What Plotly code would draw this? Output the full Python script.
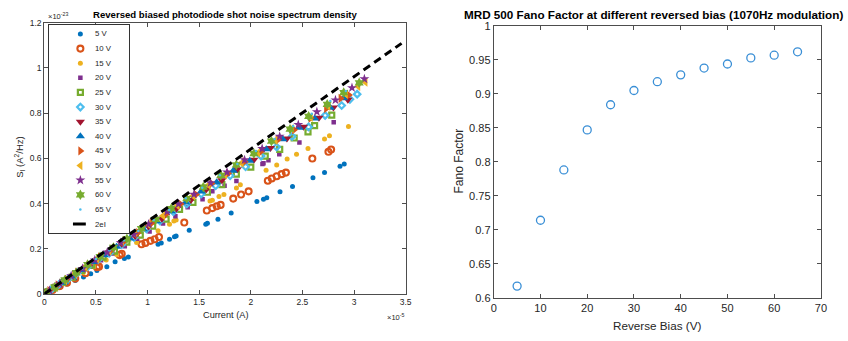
import plotly.graph_objects as go

# ---------------- shot-noise data (current in 1e-5 A, S_I in 1e-23 A^2/Hz) ----------------
bias_labels = ["5 V", "10 V", "15 V", "20 V", "25 V", "30 V", "35 V",
               "40 V", "45 V", "50 V", "55 V", "60 V", "65 V"]

cur_5v = [0.03, 0.08, 0.15, 0.22, 0.30, 0.38, 0.45, 0.51, 0.606, 0.686, 0.776, 0.814, 1.102, 1.133,
          1.213, 1.261, 1.277, 1.404, 1.564, 1.580, 1.682, 1.810, 2.059, 2.123, 2.155, 2.283, 2.404,
          2.602, 2.714, 2.864, 2.905]
sn_5v = [0.006, 0.016, 0.030, 0.044, 0.060, 0.075, 0.089, 0.104, 0.121, 0.143, 0.157, 0.164, 0.220,
         0.225, 0.242, 0.253, 0.256, 0.282, 0.309, 0.313, 0.331, 0.358, 0.409, 0.419, 0.426, 0.452,
         0.476, 0.514, 0.537, 0.565, 0.575]

cur_10v = [0.03, 0.08, 0.15, 0.22, 0.30, 0.40, 0.51, 0.53, 0.73, 0.75, 0.942, 0.980, 1.028, 1.069,
           1.111, 1.356, 1.574, 1.628, 1.670, 1.708, 1.830, 1.906, 1.979, 2.165, 2.203, 2.251, 2.299,
           2.340, 2.596, 2.752, 2.778]
sn_10v = [0.007, 0.018, 0.035, 0.050, 0.068, 0.092, 0.118, 0.121, 0.172, 0.178, 0.220, 0.226, 0.235,
          0.242, 0.252, 0.316, 0.369, 0.380, 0.388, 0.394, 0.422, 0.440, 0.454, 0.501, 0.511, 0.521,
          0.530, 0.537, 0.599, 0.629, 0.639]

cur_15v = [0.04, 0.10, 0.18, 0.28, 0.38, 0.48, 0.60, 0.70, 0.894, 1.102, 1.213, 1.255, 1.277, 1.605,
           1.628, 1.692, 1.740, 1.861, 1.899, 2.148, 2.251, 2.352, 2.443, 2.554, 2.714, 2.762, 2.946]
sn_15v = [0.010, 0.025, 0.045, 0.070, 0.095, 0.120, 0.150, 0.175, 0.228, 0.280, 0.309, 0.323, 0.327,
          0.411, 0.415, 0.431, 0.440, 0.469, 0.483, 0.547, 0.571, 0.597, 0.618, 0.643, 0.686, 0.700,
          0.741]

cur_20v = [0.05, 0.12, 0.20, 0.28, 0.36, 0.45, 0.55, 0.66, 0.78, 0.90, 1.02, 1.15, 1.27, 1.389, 1.533,
           1.628, 1.746, 1.861, 2.113, 2.123, 2.171, 2.276, 2.471, 2.803]
sn_20v = [0.014, 0.032, 0.054, 0.076, 0.098, 0.122, 0.149, 0.179, 0.211, 0.244, 0.276, 0.312, 0.344,
          0.384, 0.419, 0.454, 0.479, 0.500, 0.575, 0.578, 0.592, 0.618, 0.670, 0.760]

cur_25v = [0.03, 0.10, 0.18, 0.27, 0.36, 0.46, 0.57, 0.68, 0.80, 0.93, 1.05, 1.18, 1.31, 1.44, 1.58,
           1.72, 1.86, 2.00, 2.14, 2.28, 2.42, 2.554, 2.618, 2.784]
sn_25v = [0.009, 0.027, 0.052, 0.075, 0.104, 0.128, 0.163, 0.190, 0.229, 0.260, 0.300, 0.331, 0.374,
          0.405, 0.450, 0.484, 0.530, 0.561, 0.610, 0.640, 0.690, 0.717, 0.745, 0.791]

cur_30v = [0.06, 0.14, 0.23, 0.32, 0.42, 0.52, 0.63, 0.75, 0.87, 0.99, 1.12, 1.25, 1.38, 1.52, 1.66,
           1.80, 1.95, 2.10, 2.25, 2.40, 2.56, 2.72, 2.88, 2.96, 3.03]
sn_30v = [0.016, 0.042, 0.066, 0.094, 0.121, 0.152, 0.181, 0.219, 0.250, 0.288, 0.323, 0.364, 0.398,
          0.442, 0.479, 0.523, 0.563, 0.610, 0.650, 0.697, 0.739, 0.790, 0.834, 0.861, 0.884]

cur_35v = [0.04, 0.12, 0.21, 0.31, 0.41, 0.52, 0.63, 0.75, 0.88, 1.01, 1.14, 1.28, 1.42, 1.57, 1.72,
           1.87, 2.03, 2.19, 2.35, 2.51, 2.66, 2.80, 2.94]
sn_35v = [0.012, 0.036, 0.061, 0.092, 0.120, 0.154, 0.184, 0.222, 0.257, 0.298, 0.333, 0.377, 0.416,
          0.463, 0.503, 0.552, 0.594, 0.646, 0.688, 0.740, 0.779, 0.825, 0.859]

cur_40v = [0.02, 0.09, 0.17, 0.26, 0.36, 0.47, 0.58, 0.70, 0.83, 0.96, 1.09, 1.23, 1.37, 1.52, 1.67,
           1.83, 1.99, 2.15, 2.31, 2.47, 2.62, 2.77, 2.90]
sn_40v = [0.006, 0.028, 0.050, 0.078, 0.106, 0.141, 0.171, 0.209, 0.245, 0.286, 0.322, 0.366, 0.405,
          0.453, 0.494, 0.545, 0.589, 0.640, 0.684, 0.735, 0.776, 0.824, 0.866]

cur_45v = [0.05, 0.13, 0.22, 0.32, 0.43, 0.54, 0.66, 0.78, 0.91, 1.04, 1.18, 1.32, 1.47, 1.62, 1.78,
           1.94, 2.10, 2.26, 2.42, 2.58, 2.73, 2.87, 2.95]
sn_45v = [0.015, 0.040, 0.065, 0.097, 0.128, 0.164, 0.197, 0.236, 0.272, 0.314, 0.353, 0.398, 0.440,
          0.489, 0.533, 0.585, 0.630, 0.681, 0.726, 0.778, 0.820, 0.865, 0.880]

cur_50v = [0.03, 0.11, 0.20, 0.30, 0.40, 0.51, 0.63, 0.75, 0.88, 1.01, 1.15, 1.29, 1.44, 1.59, 1.75,
           1.91, 2.07, 2.24, 2.395, 2.58, 2.75, 2.92, 3.04, 3.11]
sn_50v = [0.009, 0.034, 0.060, 0.092, 0.120, 0.155, 0.190, 0.228, 0.265, 0.307, 0.346, 0.391, 0.434,
          0.482, 0.527, 0.579, 0.624, 0.679, 0.731, 0.781, 0.830, 0.884, 0.918, 0.937]

cur_55v = [0.05, 0.15, 0.26, 0.37, 0.49, 0.61, 0.74, 0.87, 1.01, 1.19, 1.30, 1.45, 1.61, 1.77, 1.94,
           2.11, 2.28, 2.46, 2.64, 2.82, 2.98, 3.10]
sn_55v = [0.016, 0.045, 0.080, 0.112, 0.150, 0.185, 0.227, 0.264, 0.309, 0.365, 0.398, 0.441, 0.492,
          0.539, 0.593, 0.643, 0.697, 0.749, 0.806, 0.858, 0.912, 0.951]

cur_60v = [0.02, 0.10, 0.20, 0.31, 0.42, 0.54, 0.67, 0.80, 0.94, 1.08, 1.23, 1.38, 1.54, 1.71, 1.86,
           2.03, 2.20, 2.38, 2.56, 2.74, 2.90, 3.05]
sn_60v = [0.006, 0.030, 0.062, 0.094, 0.130, 0.165, 0.206, 0.244, 0.289, 0.330, 0.378, 0.422, 0.473,
          0.525, 0.571, 0.621, 0.676, 0.729, 0.786, 0.839, 0.891, 0.934]

cur_65v = [0.04, 0.14, 0.25, 0.37, 0.50, 0.63, 0.77, 0.91, 1.06, 1.21, 1.37, 1.53, 1.70, 1.87, 2.05,
           2.23, 2.41, 2.59, 2.77, 2.92]
sn_65v = [0.013, 0.042, 0.078, 0.113, 0.155, 0.193, 0.238, 0.279, 0.327, 0.372, 0.423, 0.470, 0.525,
          0.575, 0.632, 0.686, 0.743, 0.797, 0.854, 0.898]

# theoretical full shot noise S = 2 e I
ELEMENTARY_CHARGE = 1.602e-19
line_current = [0.0, 3.46]  # 1e-5 A

# ---------------- Fano factor data ----------------
reverse_bias = [5, 10, 15, 20, 25, 30, 35, 40, 45, 50, 55, 60, 65]
fano_factor = [0.617, 0.714, 0.788, 0.847, 0.884, 0.905, 0.918, 0.928, 0.938, 0.944, 0.953,
               0.957, 0.962]

# ---------------- styling ----------------
FONT = "Liberation Sans, Arial, sans-serif"
AXIS_COL = "#4d4d4d"
TEXT_COL = "#262626"

currents = [cur_5v, cur_10v, cur_15v, cur_20v, cur_25v, cur_30v, cur_35v,
            cur_40v, cur_45v, cur_50v, cur_55v, cur_60v, cur_65v]
noises = [sn_5v, sn_10v, sn_15v, sn_20v, sn_25v, sn_30v, sn_35v,
          sn_40v, sn_45v, sn_50v, sn_55v, sn_60v, sn_65v]

marker_styles = [
    dict(symbol="circle", size=5, color="#0072BD"),
    dict(symbol="circle-open", size=6, color="#D95319", line=dict(width=2.1, color="#D95319")),
    dict(symbol="circle", size=5, color="#EDB120"),
    dict(symbol="square", size=4.5, color="#7E2F8E"),
    dict(symbol="square-open", size=5, color="#77AC30", line=dict(width=2.2, color="#77AC30")),
    dict(symbol="diamond-open", size=5, color="#4DBEEE", line=dict(width=2.2, color="#4DBEEE")),
    dict(symbol="triangle-down", size=8, color="#A2142F"),
    dict(symbol="triangle-up", size=8, color="#0072BD"),
    dict(symbol="triangle-right", size=8, color="#D95319"),
    dict(symbol="triangle-left", size=8, color="#EDB120"),
    dict(symbol="star", size=7.5, color="#7E2F8E"),
    dict(symbol="hexagram", size=8, color="#77AC30"),
    dict(symbol="circle", size=2.5, color="#4DBEEE"),
]

fig = go.Figure()

# scatter of each reverse bias
for lab, xs, ys, mk in zip(bias_labels, currents, noises, marker_styles):
    fig.add_trace(go.Scatter(x=xs, y=ys, mode="markers", name=lab, marker=mk,
                             xaxis="x", yaxis="y", showlegend=False))

# 2eI reference line (current in 1e-5 A -> S in 1e-23 A^2/Hz)
line_noise = [2 * ELEMENTARY_CHARGE * i * 1e-5 / 1e-23 for i in line_current]
fig.add_trace(go.Scatter(x=line_current, y=line_noise, mode="lines", name="2eI",
                         line=dict(color="black", width=3, dash="8px,5px"),
                         xaxis="x", yaxis="y", showlegend=False))

# Fano factor vs reverse bias
fig.add_trace(go.Scatter(x=reverse_bias, y=fano_factor, mode="markers",
                         marker=dict(symbol="circle-open", size=8, color="#3a8fd6",
                                     line=dict(width=1.3, color="#3a8fd6")),
                         xaxis="x2", yaxis="y2", showlegend=False))

# hand-built legend box (rows laid out by index in a small inset axis)
legend_marker_x = 31.5
legend_text_x = 44.5
for row, mk in enumerate(marker_styles):
    fig.add_trace(go.Scatter(x=[legend_marker_x], y=[row], mode="markers", marker=mk,
                             xaxis="x3", yaxis="y3", showlegend=False, hoverinfo="skip"))
n_rows = len(bias_labels) + 1
fig.add_trace(go.Scatter(x=[24, 37], y=[n_rows - 1, n_rows - 1], mode="lines",
                         line=dict(color="black", width=3), xaxis="x3", yaxis="y3",
                         showlegend=False, hoverinfo="skip"))

annotations = []
for row, lab in enumerate(bias_labels + ["2eI"]):
    annotations.append(dict(x=legend_text_x, y=row, xref="x3", yref="y3", text=lab,
                            showarrow=False, xanchor="left", yanchor="middle",
                            font=dict(family=FONT, size=7.8, color=TEXT_COL)))

W, H = 848, 341


def px_x(p):
    return p / W


def px_y(p):
    return 1 - p / H


annotations += [
    dict(text="<b>Reversed biased photodiode shot noise spectrum density</b>",
         x=px_x(225), y=px_y(9), xref="paper", yref="paper", showarrow=False,
         xanchor="center", yanchor="middle", font=dict(family=FONT, size=9.6, color="#000")),
    dict(text="<b>MRD 500 Fano Factor at different reversed bias (1070Hz modulation)</b>",
         x=px_x(657), y=px_y(8.5), xref="paper", yref="paper", showarrow=False,
         xanchor="center", yanchor="middle", font=dict(family=FONT, size=11.7, color="#000")),
    dict(text="×10<sup>-23</sup>", x=px_x(43), y=px_y(10), xref="paper", yref="paper",
         showarrow=False, xanchor="left", yanchor="middle",
         font=dict(family=FONT, size=7.5, color=TEXT_COL)),
    dict(text="×10<sup>-5</sup>", x=px_x(407), y=px_y(322), xref="paper", yref="paper",
         showarrow=False, xanchor="right", yanchor="middle",
         font=dict(family=FONT, size=7.5, color=TEXT_COL)),
    dict(text="Current (A)", x=px_x(224.5), y=px_y(320.5), xref="paper", yref="paper",
         showarrow=False, xanchor="center", yanchor="middle",
         font=dict(family=FONT, size=9.2, color=TEXT_COL)),
    dict(text="S<sub>I</sub> (A<sup>2</sup>/Hz)", x=px_x(16.5), y=px_y(157), xref="paper",
         yref="paper", showarrow=False, textangle=-90, xanchor="center", yanchor="middle",
         font=dict(family=FONT, size=9.5, color=TEXT_COL)),
    dict(text="Reverse Bias (V)", x=px_x(661), y=px_y(331), xref="paper", yref="paper",
         showarrow=False, xanchor="center", yanchor="middle",
         font=dict(family=FONT, size=11.7, color=TEXT_COL)),
    dict(text="Fano Factor", x=px_x(460.5), y=px_y(160.5), xref="paper", yref="paper",
         showarrow=False, textangle=-90, xanchor="center", yanchor="middle",
         font=dict(family=FONT, size=12, color=TEXT_COL)),
]

common_axis = dict(showline=True, linecolor=AXIS_COL, linewidth=1, mirror="ticks",
                   ticks="inside", ticklen=4, tickcolor=AXIS_COL, tickwidth=1,
                   showgrid=False, zeroline=False)

fig.update_layout(
    width=W, height=H,
    margin=dict(l=0, r=0, t=0, b=0),
    paper_bgcolor="white", plot_bgcolor="white",
    showlegend=False,
    xaxis=dict(domain=[px_x(41.7), px_x(407)], range=[0, 3.5], dtick=0.5, tick0=0,
               anchor="y", tickfont=dict(family=FONT, size=8.5, color=TEXT_COL), **common_axis),
    yaxis=dict(domain=[px_y(298.5), px_y(17.3)], range=[0, 1.2], dtick=0.2, tick0=0,
               anchor="x", tickfont=dict(family=FONT, size=8.5, color=TEXT_COL), **common_axis),
    xaxis2=dict(domain=[px_x(496), px_x(826.7)], range=[0, 70], dtick=10, tick0=0,
                anchor="y2", tickfont=dict(family=FONT, size=11, color=TEXT_COL), **common_axis),
    yaxis2=dict(domain=[px_y(302.3), px_y(20.7)], range=[0.6, 1], dtick=0.05, tick0=0.6,
                anchor="x2", tickfont=dict(family=FONT, size=11, color=TEXT_COL), **common_axis),
    xaxis3=dict(domain=[px_x(46.7), px_x(127.7)], range=[0, 81], anchor="y3",
                showline=True, mirror=True, linecolor="#333", linewidth=1,
                showticklabels=False, ticks="", showgrid=False, zeroline=False),
    yaxis3=dict(domain=[px_y(235.7), px_y(19.3)], range=[13.64, -0.64], anchor="x3",
                showline=True, mirror=True, linecolor="#333", linewidth=1,
                showticklabels=False, ticks="", showgrid=False, zeroline=False),
    annotations=annotations,
)

fig.write_html("out.html")
